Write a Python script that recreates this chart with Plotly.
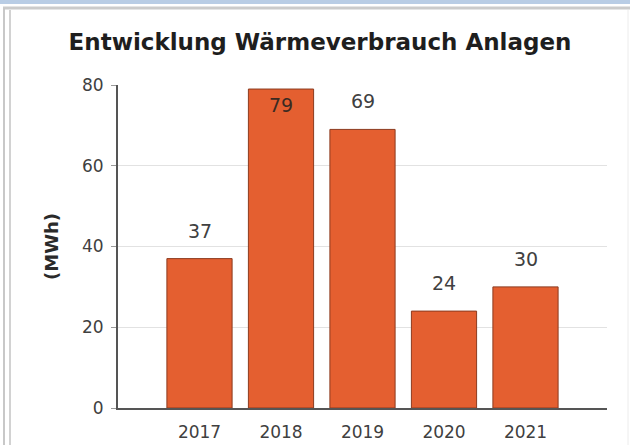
import plotly.graph_objects as go

# Heat consumption of the plants per year (MWh)
years = ["2017", "2018", "2019", "2020", "2021"]
consumption = [37, 79, 69, 24, 30]
y_ticks = [0, 20, 40, 60, 80]

title_text = "Entwicklung Wärmeverbrauch Anlagen"
y_title = "(MWh)"

W, H = 630, 445
M_L, M_R, M_T, M_B = 118, 23, 85, 37
Y_MAX = 80

BAR_COLOR = "#e45f30"
BAR_EDGE = "#8c3b1f"
AXIS_COLOR = "#555555"
GRID_COLOR = "#e2e2e2"
TEXT_COLOR = "#404040"
FONT = "DejaVu Sans"


def px_x(px):
    """Convert a pixel x position to paper coordinates."""
    return (px - M_L) / (W - M_L - M_R)


def px_y(py):
    """Convert a pixel y position (from top) to paper coordinates."""
    return (H - M_B - py) / (H - M_T - M_B)


fig = go.Figure(
    go.Bar(
        x=list(range(len(years))),
        y=consumption,
        marker=dict(color=BAR_COLOR, line=dict(color=BAR_EDGE, width=1)),
        hoverinfo="skip",
    )
)

# value labels: above the bar, or inside its top when there is no room above
annotations = []
for i, v in enumerate(consumption):
    inside = v > Y_MAX - 6
    annotations.append(
        dict(
            x=i, y=v, xref="x", yref="y",
            text=str(v), showarrow=False,
            yanchor="middle", xanchor="center",
            yshift=-16 if inside else 28,
            font=dict(family=FONT, size=19, color="#3a2a22" if inside else TEXT_COLOR),
        )
    )

# rotated unit label
annotations.append(
    dict(
        x=px_x(51), y=px_y(247), xref="paper", yref="paper",
        text=f"<b>{y_title}</b>", showarrow=False, textangle=-90,
        xanchor="center", yanchor="middle",
        font=dict(family=FONT, size=18, color="#2a2a2a"),
    )
)

# page frame around the chart
shapes = [
    dict(type="rect", xref="paper", yref="paper",
         x0=px_x(0), x1=px_x(W), y0=px_y(0), y1=px_y(4),
         fillcolor="#b9cde5", line=dict(width=0), layer="below"),
    dict(type="line", xref="paper", yref="paper",
         x0=px_x(3), x1=px_x(W), y0=px_y(8), y1=px_y(8),
         line=dict(color="#cbcbcb", width=3)),
    dict(type="line", xref="paper", yref="paper",
         x0=px_x(4), x1=px_x(4), y0=px_y(8), y1=px_y(H),
         line=dict(color="#c8c8c8", width=2)),
    dict(type="line", xref="paper", yref="paper",
         x0=px_x(10), x1=px_x(10), y0=px_y(10), y1=px_y(H),
         line=dict(color="#d2d2d2", width=2)),
    dict(type="line", xref="paper", yref="paper",
         x0=px_x(628), x1=px_x(628), y0=px_y(10), y1=px_y(H),
         line=dict(color="#ececec", width=1)),
]

fig.update_layout(
    width=W, height=H,
    margin=dict(l=M_L, r=M_R, t=M_T, b=M_B, pad=0, autoexpand=False),
    paper_bgcolor="white", plot_bgcolor="white",
    bargap=0.2,
    showlegend=False,
    title=dict(
        text=f"<b>{title_text}</b>",
        x=320 / W, xanchor="center",
        y=1 - 42 / H, yanchor="middle",
        font=dict(family=FONT, size=23, color="#1e1e1e"),
    ),
    xaxis=dict(
        range=[-1, 5],
        tickvals=list(range(len(years))), ticktext=years,
        showline=True, linecolor=AXIS_COLOR, linewidth=2,
        showgrid=False, zeroline=False, ticks="",
        ticklabelstandoff=8, automargin=False,
        tickfont=dict(family=FONT, size=17, color=TEXT_COLOR),
    ),
    yaxis=dict(
        range=[0, Y_MAX], tickvals=y_ticks,
        showline=True, linecolor=AXIS_COLOR, linewidth=2,
        showgrid=True, gridcolor=GRID_COLOR, gridwidth=1,
        zeroline=False, automargin=False,
        ticks="outside", ticklen=5, tickcolor="#9a9a9a",
        ticklabelstandoff=4,
        tickfont=dict(family=FONT, size=17, color=TEXT_COLOR),
    ),
    annotations=annotations,
    shapes=shapes,
    font=dict(family=FONT),
)

fig.write_html("out.html")
